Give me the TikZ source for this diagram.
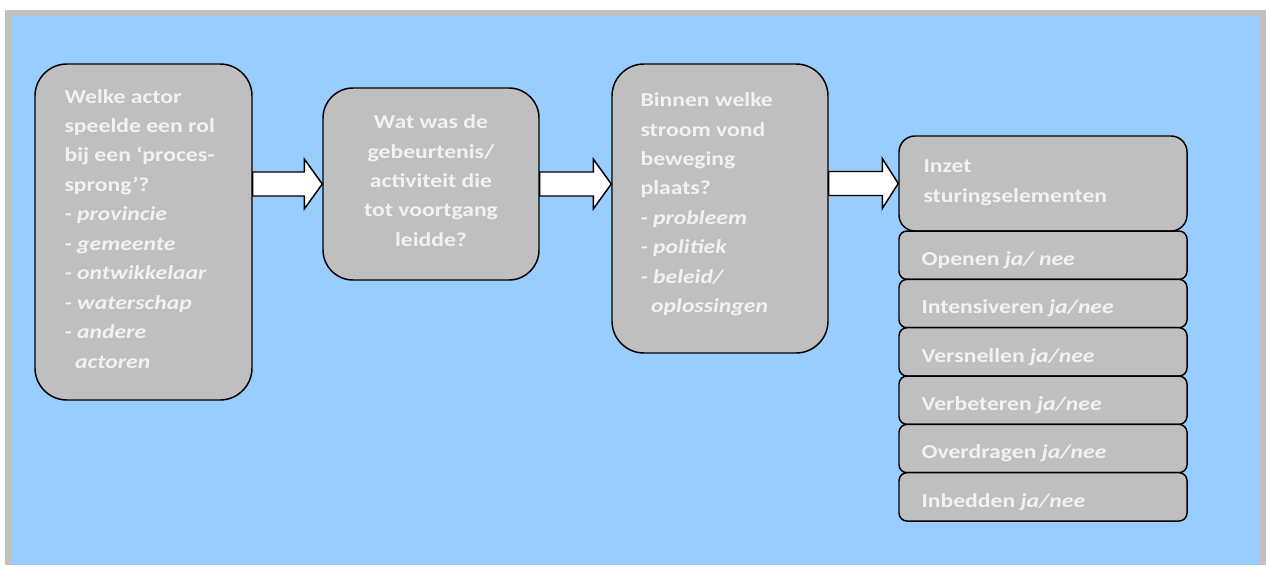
\documentclass[tikz,border=0pt]{standalone}
\usepackage{fontspec}
\setmainfont{Carlito}[FakeStretch=1.2]
\usetikzlibrary{calc}
\definecolor{bgblue}{HTML}{99CCFF}
\definecolor{framegray}{HTML}{C0C0C0}
\definecolor{boxgray}{HTML}{BFBFBF}
\definecolor{txtc}{HTML}{F2F2F2}
\newcommand\fatarrow[4]{%
  \draw[bigarrow] let \p1=(#1.east), \p2=(#2.west), \p3=(#3.center) in
    (\x1,\y3+9pt) -- (\x2-#4,\y3+9pt) -- (\x2-#4,\y3+18.75pt) -- (\x2,\y3)
    -- (\x2-#4,\y3-18.75pt) -- (\x2-#4,\y3-9pt) -- (\x1,\y3-9pt) -- cycle;}
\newcommand\toprule{\rule{0pt}{15pt}}
\begin{document}
\begin{tikzpicture}[x=0.75pt,y=-0.75pt,
  box/.style={draw=black, line width=1.1pt, fill=boxgray, rectangle, inner sep=0pt},
  txt/.style={text=txtc, font=\fontsize{14.8}{22.1}\selectfont\bfseries, inner sep=0pt, align=left, anchor=north west},
  bigarrow/.style={draw=black, line width=1.1pt, fill=white, line join=miter}]
\useasboundingbox (0,0) rectangle (1266,565);
\fill[framegray] (5,10) rectangle (1266,565);
\fill[bgblue] (11,16) rectangle (1260,565);

% main boxes
\node[box, rounded corners=24pt, minimum width=162.75pt, minimum height=252pt] (b1) at (143.5,232) {};
\node[box, rounded corners=22.5pt, minimum width=162pt, minimum height=144pt] (b2) at (431,184) {};
\node[box, rounded corners=24pt, minimum width=162pt, minimum height=216.75pt] (b3) at (720,208.5) {};
\node[box, rounded corners=12pt, minimum width=216pt, minimum height=71.25pt] (r0) at (1043,183.5) {};

% small boxes
\foreach \i/\nm in {0/s1,1/s2,2/s3,3/s4,4/s5,5/s6}{
  \node[box, rounded corners=6pt, minimum width=216pt, minimum height=36.25pt] (\nm) at (1043,{255.2+48.33*\i}) {};
}

% texts
\node[txt] (t1) at ($(b1.north west)+(30,19.5)$) {\toprule Welke actor\\speelde een rol\\bij een ‘proces-\\sprong’?\\\textit{- provincie}\\\textit{- gemeente}\\\textit{- ontwikkelaar}\\\textit{- waterschap}\\\textit{- andere}\\\hspace*{8pt}\textit{actoren}};
\node[txt, align=center, anchor=north] (t2) at ($(b2.north)+(0,21)$) {\toprule Wat was de\\gebeurtenis/\\activiteit die\\tot voortgang\\leidde?};
\node[txt] (t3) at ($(b3.north west)+(29,23)$) {\toprule Binnen welke\\stroom vond\\beweging\\plaats?\\\textit{- probleem}\\\textit{- politiek}\\\textit{- beleid/}\\\hspace*{8pt}\textit{oplossingen}};
\node[txt] (t4) at ($(r0.north west)+(25,17)$) {\toprule Inzet\\sturingselementen};

\foreach \nm/\lab in {s1/{Openen \textit{ja/ nee}},s2/{Intensiveren \textit{ja/nee}},s3/{Versnellen \textit{ja/nee}},s4/{Verbeteren \textit{ja/nee}},s5/{Overdragen \textit{ja/nee}},s6/{Inbedden \textit{ja/nee}}}{
  \begin{scope}
    \clip (\nm.north west) rectangle ($(\nm.south east)+(0,-12)$);
    \node[txt] (l\nm) at ($(\nm.north west)+(23,15)$) {\toprule \lab};
  \end{scope}
}

% arrows
\fatarrow{b1}{b2}{b2}{13.5pt}
\fatarrow{b2}{b3}{b2}{13.5pt}
\fatarrow{b3}{r0}{r0}{12pt}
\end{tikzpicture}
\end{document}
